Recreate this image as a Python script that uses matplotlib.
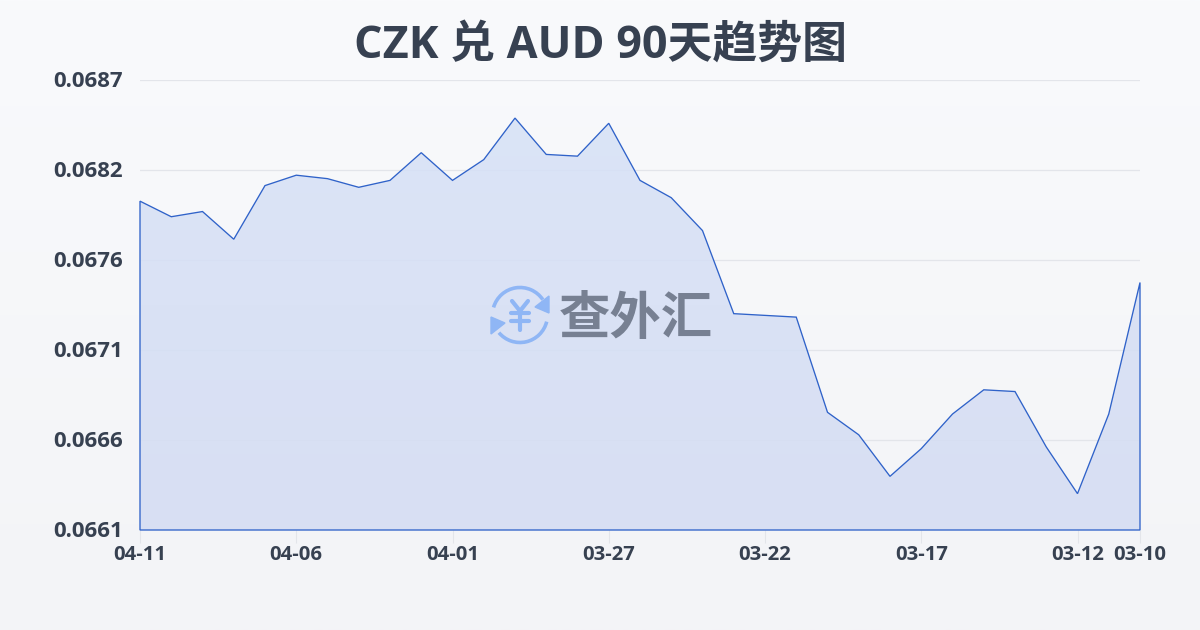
import numpy as np
import matplotlib
matplotlib.use("Agg")
import matplotlib.pyplot as plt
from matplotlib.colors import LinearSegmentedColormap
from matplotlib.patches import Polygon, Arc

plt.rcParams['font.family'] = ['Open Sans', 'Noto Sans CJK SC', 'DejaVu Sans']

title = "CZK 兑 AUD 90天趋势图"
values = [0.06800, 0.06791, 0.06794, 0.06778, 0.06809, 0.06815, 0.06813, 0.06808,
          0.06812, 0.06828, 0.06812, 0.06824, 0.06848, 0.06827, 0.06826, 0.06845,
          0.06812, 0.06802, 0.06783, 0.06735, 0.06734, 0.06733, 0.06678, 0.06665,
          0.06641, 0.06657, 0.06677, 0.06691, 0.06690, 0.06658, 0.06631, 0.06677,
          0.06753]
x_ticks = [0, 5, 10, 15, 20, 25, 30, 32]
x_labels = ["04-11", "04-06", "04-01", "03-27", "03-22", "03-17", "03-12", "03-10"]
y_ticks = [0.0661, 0.06662, 0.06714, 0.06766, 0.06818, 0.0687]
y_labels = ["0.0661", "0.0666", "0.0671", "0.0676", "0.0682", "0.0687"]
INK = "#374151"
LINE = "#2f62c9"

fig = plt.figure(figsize=(12, 6.3), dpi=100)
bg = fig.add_axes([0, 0, 1, 1], zorder=0)
bg.axis("off")
bg.imshow(np.linspace(0, 1, 256).reshape(-1, 1), aspect="auto", extent=[0, 1, 0, 1],
          cmap=LinearSegmentedColormap.from_list("bg", ["#f9fafc", "#f3f4f7"]))

ax = fig.add_axes([140/1200, 1-530/630, 1000/1200, 450/630], zorder=1)
ax.patch.set_alpha(0)
xs = np.arange(len(values))
for s in ax.spines.values():
    s.set_visible(False)
ax.set_yticks(y_ticks, y_labels)
ax.set_xticks(x_ticks, x_labels)
ax.grid(axis="y", color="#e3e5ea", lw=0.9, zorder=1)
ax.set_axisbelow(True)
ax.tick_params(axis="y", length=0, pad=12.5, labelsize=16, labelcolor=INK)
ax.tick_params(axis="x", length=9, width=0.8, color="#e3e5ea", pad=1.5, labelsize=14.6, labelcolor=INK)
for lb in ax.get_xticklabels() + ax.get_yticklabels():
    lb.set_fontweight("bold")

pts = np.vstack([np.column_stack([xs, values]), [32, 0.0661], [0, 0.0661]])
grad = np.linspace(0, 1, 256).reshape(-1, 1)
im = ax.imshow(grad, aspect="auto", extent=[0, 32, 0.0661, 0.0687], origin="upper", zorder=2, alpha=0.85,
               cmap=LinearSegmentedColormap.from_list("f", ["#d6e2f7", "#d4dcf3"]))
poly = Polygon(pts, closed=True, transform=ax.transData, facecolor="none", edgecolor=LINE, lw=0.95, zorder=3)
poly.set_clip_on(False)
ax.add_patch(poly)
im.set_clip_path(Polygon(pts, closed=True, transform=ax.transData))
ax.set_xlim(0, 32)
ax.set_ylim(0.0661, 0.0687)

offset = matplotlib.transforms.ScaledTranslation(0, 1/100, fig.dpi_scale_trans)
for lb in ax.get_yticklabels():
    lb.set_transform(lb.get_transform() + offset)

fig.text(600/1200, 1-46/630, title, ha="center", va="center", fontsize=32.3, fontweight="bold", color=INK)

# watermark in pixel coordinates
ov = fig.add_axes([0, 0, 1, 1], zorder=3)
ov.axis("off")
blue = "#8fb6f5"
cx, cy, r = 520, 315, 27.5
ov.add_patch(Arc((cx, cy), 2*r, 2*r, theta1=196, theta2=326, color=blue, lw=2.6))
ov.add_patch(Arc((cx, cy), 2*r, 2*r, theta1=14, theta2=140, color=blue, lw=2.6))
ov.add_patch(Polygon([[549, 296], [549, 313], [535, 307]], closed=True, color=blue))
ov.add_patch(Polygon([[491, 334], [491, 317], [505, 323]], closed=True, color=blue))
yen = dict(color=blue, lw=3, solid_capstyle="round")
ov.plot([512, 520, 528], [301, 311, 301], **yen)
ov.plot([520, 520], [311, 330], **yen)
ov.plot([511, 529], [313, 313], **yen)
ov.plot([511, 529], [321, 321], **yen)
ov.set_xlim(0, 1200)
ov.set_ylim(630, 0)
ov.text(636, 321, "查外汇", ha="center", va="center", fontsize=37, fontweight="bold", color="#778092")

fig.savefig("out.png", dpi=100)
